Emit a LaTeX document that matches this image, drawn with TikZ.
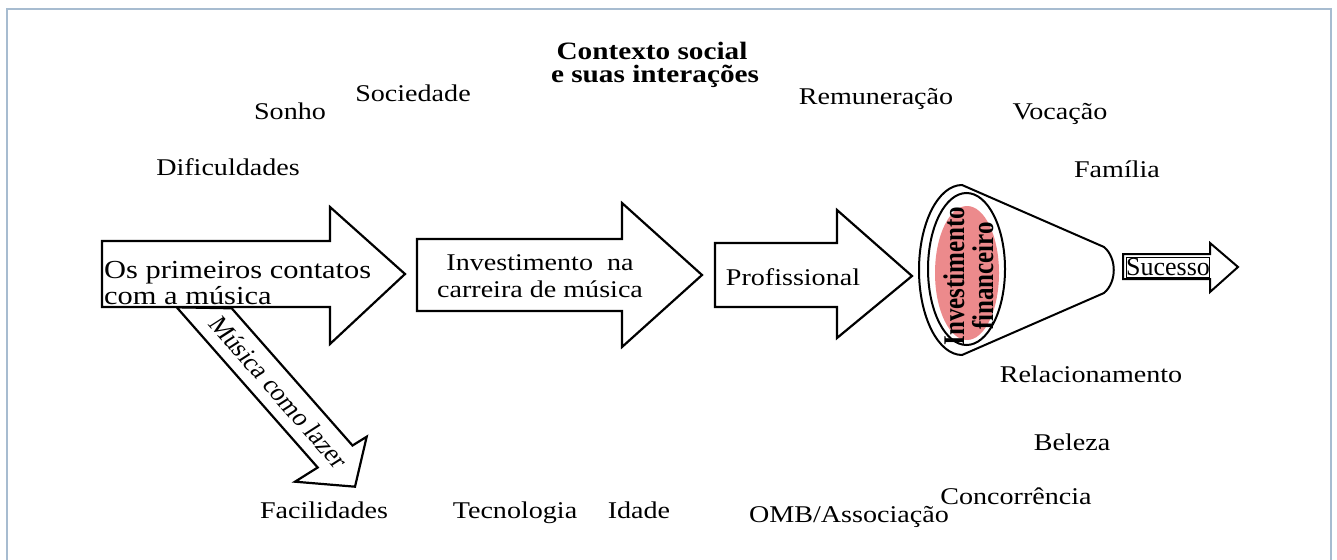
\documentclass[tikz,border=0pt]{standalone}
\usepackage{fontspec}
\setmainfont{Liberation Serif}
\definecolor{framec}{RGB}{167,188,208}
\definecolor{redfill}{RGB}{236,138,140}
\begin{document}
\begin{tikzpicture}[x=1pt,y=-1pt,
  lbl/.style={font=\fontsize{24}{28}\selectfont, xscale=1.17, anchor=base, inner sep=0pt},
  big/.style={lbl, font=\fontsize{26}{30}\selectfont},
  ttl/.style={lbl, font=\fontsize{25}{29}\selectfont\bfseries},
  vert/.style={inner sep=0pt, anchor=base, xscale=1.2, rotate=90, font=\fontsize{25}{29}\selectfont\bfseries},
  arr/.style={draw=black, line width=2.2pt, fill=white, line join=miter, miter limit=10},
  funnel/.style={draw=black, line width=2pt, fill=white}]
\useasboundingbox (0,0) rectangle (1337,559);
\draw[draw=framec, line width=2pt] (7,9) rectangle (1331,590);

% diagonal arrow (leisure)
\draw[arr] (176.7,307.3) -- (317.7,467.5) -- (295,481.7) -- (355,486.7)
  -- (366.7,436.7) -- (352.5,445.5) -- (231.7,308.3) -- cycle;
% main arrows
\draw[arr] (102,241) -- (330,241) -- (330,207) -- (405,274) -- (330,344) -- (330,307) -- (102,307) -- cycle;
\draw[arr] (417,239) -- (622,239) -- (622,203) -- (702,275) -- (622,347) -- (622,311) -- (417,311) -- cycle;
\draw[arr] (715,243) -- (837,243) -- (837,210) -- (912,276) -- (837,338) -- (837,307) -- (715,307) -- cycle;
% success arrow
\draw[arr, line width=2pt] (1123,254) -- (1210,254) -- (1210,243) -- (1238,267) -- (1210,292) -- (1210,279) -- (1123,279) -- cycle;
\draw[line width=0.9pt] (1126.5,257) rectangle (1209,277);

% funnel
\draw[funnel] (962,185) arc[start angle=270, end angle=90, x radius=43, y radius=85]
  -- (1104,293) .. controls (1117,282) and (1117,258) .. (1104,247) -- cycle;
\fill[redfill] (967,273) ellipse[x radius=32, y radius=67];
\draw[line width=2pt] (966.5,269) ellipse[x radius=38.5, y radius=76];

% texts in arrows
\node[big, anchor=base west] (a1l1) at (104,278) {Os primeiros contatos};
\node[big, anchor=base west] (a1l2) at (104,304) {com a música};
\node[lbl] (a2l1) at (540,270) {Investimento\ \ na};
\node[lbl] (a2l2) at (540,297) {carreira de música};
\node[lbl] (a3) at (793,285) {Profissional};
\node[lbl, font=\fontsize{26}{30}\selectfont, xscale=0.855] (suc) at (1168,275.5) {Sucesso};
\node[lbl, anchor=center, rotate=-53] (lazer) at (279,392) {Música como lazer};
\node[vert] (inv1) at (964,276) {Investimento};
\node[vert] (inv2) at (993,276) {financeiro};

% title
\node[ttl] (t1) at (652,60) {Contexto social};
\node[ttl] (t2) at (655,83) {e suas interações};

% surrounding factors
\node[lbl] (sonho) at (290,120) {Sonho};
\node[lbl] (soc) at (413,102) {Sociedade};
\node[lbl] (dif) at (228,175) {Dificuldades};
\node[lbl] (rem) at (876,105) {Remuneração};
\node[lbl] (voc) at (1060,120) {Vocação};
\node[lbl] (fam) at (1117,177) {Família};
\node[lbl] (rel) at (1091,382) {Relacionamento};
\node[lbl] (bel) at (1072,450) {Beleza};
\node[lbl] (conc) at (1016,504) {Concorrência};
\node[lbl] (omb) at (849,522) {OMB/Associação};
\node[lbl] (ida) at (639,518) {Idade};
\node[lbl] (tec) at (515,518) {Tecnologia};
\node[lbl] (fac) at (324,518) {Facilidades};
\end{tikzpicture}
\end{document}
